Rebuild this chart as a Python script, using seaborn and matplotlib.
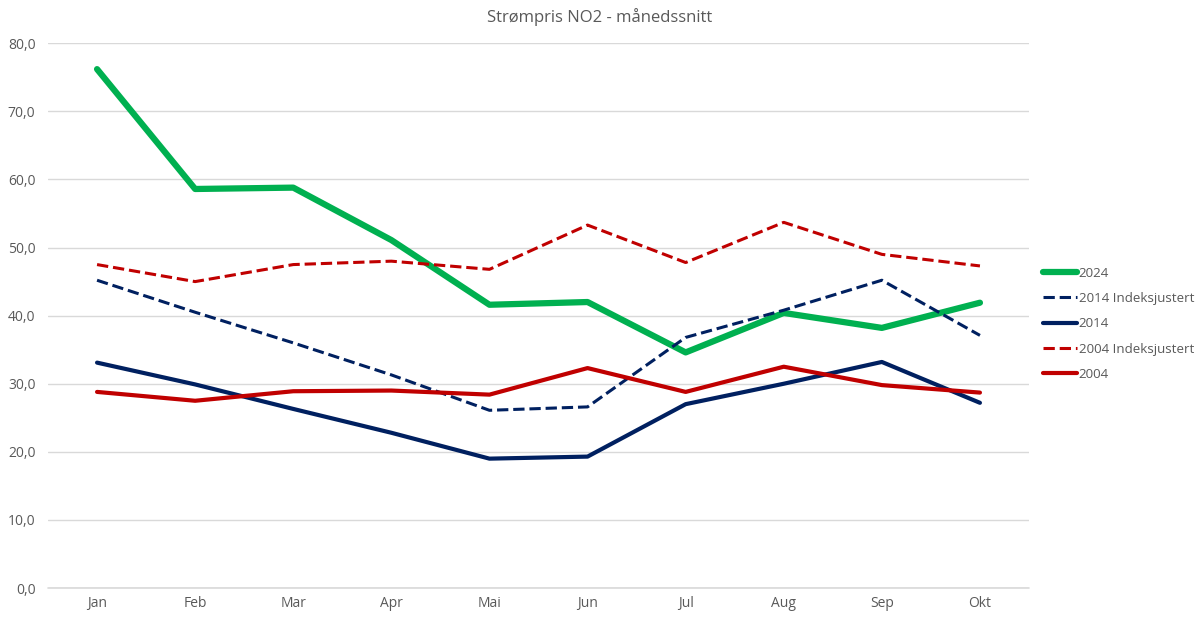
import pandas as pd
import matplotlib.pyplot as plt
from matplotlib.ticker import FuncFormatter
import seaborn as sns

months = ['Jan', 'Feb', 'Mar', 'Apr', 'Mai', 'Jun', 'Jul', 'Aug', 'Sep', 'Okt']
pris_2024 = [76.2, 58.6, 58.8, 51.1, 41.6, 42.0, 34.6, 40.4, 38.2, 41.9]
pris_2014_idx = [45.2, 40.5, 36.0, 31.3, 26.1, 26.6, 36.8, 40.8, 45.2, 37.1]
pris_2014 = [33.1, 29.9, 26.3, 22.8, 19.0, 19.3, 27.0, 30.0, 33.2, 27.2]
pris_2004_idx = [47.5, 45.0, 47.5, 48.0, 46.8, 53.3, 47.8, 53.7, 49.0, 47.3]
pris_2004 = [28.8, 27.5, 28.9, 29.0, 28.4, 32.3, 28.8, 32.5, 29.8, 28.7]

GREEN = '#00B050'
NAVY = '#002060'
RED = '#C00000'
TEXT = '#595959'
GRID = '#D9D9D9'


def main():
    sns.set_theme(style='white')
    plt.rcParams['font.family'] = ['Open Sans', 'DejaVu Sans']

    fig = plt.figure(figsize=(12, 6.18), dpi=100)
    ax = fig.add_axes([0.04, 0.0485, 0.8175, 0.8815])

    series = [
        ('2024', pris_2024, GREEN, '-', 4.5),
        ('2014 Indeksjustert', pris_2014_idx, NAVY, '--', 2.2),
        ('2014', pris_2014, NAVY, '-', 3.0),
        ('2004 Indeksjustert', pris_2004_idx, RED, '--', 2.2),
        ('2004', pris_2004, RED, '-', 3.0),
    ]
    x = list(range(len(months)))
    for label, values, color, ls, lw in series:
        sns.lineplot(x=x, y=values, ax=ax, color=color, linestyle=ls,
                     linewidth=lw, label=label)

    ax.set_xlim(-0.5, len(months) - 0.5)
    ax.set_ylim(0, 80)
    ax.set_yticks(range(0, 81, 10))
    ax.yaxis.set_major_formatter(FuncFormatter(lambda v, p: f'{v:.1f}'.replace('.', ',')))
    ax.set_xticks(x)
    ax.set_xticklabels(months)
    ax.grid(axis='y', color=GRID, linewidth=1)
    ax.axhline(0, color=GRID, linewidth=1.2, zorder=0, clip_on=False)
    for s in ax.spines.values():
        s.set_visible(False)
    ax.tick_params(axis='both', colors=TEXT, labelsize=10, length=0)
    ax.tick_params(axis='x', pad=6)
    ax.tick_params(axis='y', pad=9)
    ax.set_xlabel('')
    ax.set_ylabel('')

    fig.text(0.5, 0.972, 'Strømpris NO2 - månedssnitt', ha='center', va='center',
             fontsize=12, color=TEXT)

    leg = ax.legend(loc='center left', bbox_to_anchor=(1.005, 0.485), frameon=False,
                    fontsize=9.6, handlelength=2.5, handletextpad=0.15,
                    labelspacing=0.92, borderaxespad=0.3)
    for t in leg.get_texts():
        t.set_color(TEXT)

    fig.savefig('out.png', dpi=100)


if __name__ == "__main__":
    main()
